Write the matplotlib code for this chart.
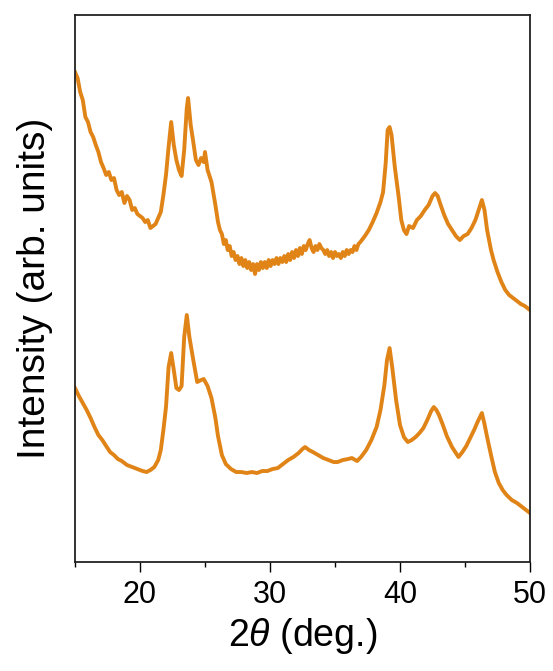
import matplotlib
matplotlib.use('Agg')
import matplotlib.pyplot as plt
from matplotlib.ticker import MultipleLocator

plt.rcParams['font.family'] = ['Liberation Sans', 'DejaVu Sans']
plt.rcParams['mathtext.fontset'] = 'custom'
plt.rcParams['mathtext.rm'] = 'Liberation Sans'
plt.rcParams['mathtext.it'] = 'Liberation Sans:italic'

# upper pattern (offset)
top_2theta = [15.0, 15.2, 15.4, 15.6, 15.8, 16.0, 16.2, 16.4, 16.6, 16.8,
              17.0, 17.2, 17.4, 17.6, 17.8, 18.0, 18.2, 18.4, 18.6, 18.8,
              19.0, 19.2, 19.4, 19.6, 19.8, 20.0, 20.2, 20.4, 20.6, 20.8,
              21.0, 21.2, 21.4, 21.6, 21.8, 22.0, 22.2, 22.4, 22.6, 22.8,
              23.0, 23.2, 23.4, 23.6, 23.7, 23.9, 24.1, 24.3, 24.5, 24.7,
              24.9, 25.0, 25.2, 25.5, 25.8,
              26.0, 26.15, 26.3, 26.45, 26.6, 26.75, 26.9, 27.05, 27.2, 27.35,
              27.5, 27.65, 27.8, 27.95, 28.1, 28.25, 28.4, 28.55, 28.7, 28.85,
              29.0, 29.15, 29.3, 29.45, 29.6, 29.75, 29.9, 30.05, 30.2, 30.35,
              30.5, 30.65, 30.8, 30.95, 31.1, 31.25, 31.4, 31.55, 31.7, 31.85,
              32.0, 32.15, 32.3, 32.45, 32.6, 32.75, 32.9, 33.05, 33.2, 33.35,
              33.5, 33.65, 33.8, 33.95, 34.1, 34.25, 34.4, 34.55, 34.7, 34.85,
              35.0, 35.15, 35.3, 35.45, 35.6, 35.75, 35.9, 36.05, 36.2, 36.35,
              36.5, 36.65, 36.8, 36.95,
              37.3, 37.6, 37.9, 38.2, 38.5, 38.7, 38.9, 39.05, 39.2, 39.35,
              39.6, 39.9, 40.1, 40.3, 40.5, 40.7, 41.0, 41.3, 41.6, 41.9,
              42.2, 42.5, 42.7, 42.9, 43.1, 43.4, 43.7, 44.0, 44.3, 44.6,
              44.9, 45.2, 45.5, 45.8, 46.1, 46.3, 46.5, 46.7, 47.0, 47.2,
              47.5, 47.8, 48.1, 48.4, 48.7, 49.0, 49.3, 49.6, 50.0]
top_int = [490, 484, 470, 462, 445, 440, 430, 425, 417, 410,
           400, 394, 387, 390, 382, 384, 372, 367, 370, 359,
           366, 362, 352, 354, 348, 346, 344, 340, 342, 334,
           336, 338, 344, 350, 367, 387, 415, 440, 417, 402,
           392, 386, 412, 454, 464, 437, 420, 402, 397, 404,
           400, 410, 392, 380, 357,
           340, 332, 328, 318, 322, 312, 316, 306, 310, 302,
           306, 298, 304, 296, 302, 294, 300, 292, 298, 288,
           298, 292, 300, 294, 300, 294, 302, 296, 302, 298,
           304, 298, 304, 300, 306, 300, 308, 302, 310, 304,
           312, 306, 314, 308, 316, 312, 318, 322, 314, 310,
           316, 312, 318, 314, 312, 308, 312, 306, 310, 304,
           310, 306, 308, 304, 310, 306, 312, 308, 312, 310,
           316, 312, 318, 320,
           326, 332, 340, 349, 360, 370, 399, 432, 435, 427,
           395, 365, 342, 332, 328, 336, 334, 342, 346, 352,
           357, 366, 369, 366, 358, 347, 338, 332, 326, 322,
           326, 328, 334, 342, 354, 362, 352, 332, 312, 302,
           290, 280, 272, 267, 264, 261, 258, 256, 252]

# lower pattern
bot_2theta = [15.0, 15.3, 15.6, 15.9, 16.2, 16.5, 16.8, 17.1, 17.4, 17.7,
              18.0, 18.3, 18.6, 19.0, 19.4, 19.8, 20.2, 20.5, 20.8, 21.1,
              21.4, 21.6, 21.8, 22.0, 22.2, 22.4, 22.6, 22.8, 23.0, 23.2,
              23.4, 23.6, 23.8, 24.1, 24.4, 24.7, 24.9, 25.2, 25.5, 25.8,
              26.0, 26.3, 26.6, 27.0, 27.4, 27.8, 28.2, 28.6, 29.0, 29.4,
              29.8, 30.2, 30.6, 31.0, 31.4, 31.8, 32.2, 32.5, 32.7, 33.0,
              33.3, 33.7, 34.1, 34.5, 34.9, 35.2, 35.6, 36.0, 36.3, 36.7,
              37.0, 37.4, 37.8, 38.2, 38.5, 38.8, 39.0, 39.2, 39.4, 39.7,
              40.0, 40.3, 40.6, 40.9, 41.2, 41.5, 41.8, 42.1, 42.4, 42.6,
              42.8, 43.0, 43.3, 43.6, 44.0, 44.3, 44.5, 44.8, 45.1, 45.4,
              45.7, 46.0, 46.3, 46.5, 46.7, 47.0, 47.3, 47.6, 47.9, 48.2,
              48.6, 49.0, 49.4, 49.7, 50.0]
bot_int = [174, 166, 159, 152, 144, 135, 127, 122, 116, 110,
           107, 103, 101, 97, 95, 93, 91, 90, 92, 95,
           102, 112, 132, 155, 195, 209, 192, 174, 172, 176,
           225, 247, 225, 202, 180, 182, 183, 176, 164, 144,
           126, 107, 98, 93, 90, 90, 89, 90, 89, 91,
           91, 93, 94, 98, 102, 105, 109, 113, 115, 112,
           110, 107, 104, 102, 100, 100, 102, 103, 104, 101,
           105, 112, 122, 135, 152, 177, 202, 214, 195, 162,
           137, 125, 120, 122, 125, 129, 134, 142, 151, 155,
           152, 147, 137, 126, 115, 109, 105, 110, 116, 124,
           132, 141, 149, 138, 125, 107, 90, 79, 72, 67,
           62, 59, 55, 52, 49]

color = '#e08418'

fig = plt.figure(figsize=(5.53, 6.71), dpi=100)
ax = fig.add_axes([0.1356, 0.1624, 0.8228, 0.8152])

ax.plot(top_2theta, top_int, color=color, lw=2.8)
ax.plot(bot_2theta, bot_int, color=color, lw=2.8)

ax.set_xlim(15, 50)
ax.set_ylim(0, 547)
ax.set_yticks([])
ax.xaxis.set_major_locator(MultipleLocator(10))
ax.xaxis.set_minor_locator(MultipleLocator(5))
ax.tick_params(axis='x', which='major', direction='out', length=7, width=1,
               labelsize=22, pad=6)
ax.tick_params(axis='x', which='minor', direction='out', length=3.5, width=1)
for s in ax.spines.values():
    s.set_linewidth(1.3)
    s.set_color('#222222')

ax.set_xlabel('2$\\it{\\theta}$ (deg.)', fontsize=27, labelpad=4)
ax.set_ylabel('Intensity (arb. units)', fontsize=28, labelpad=16)

fig.savefig('out.png', dpi=100)
